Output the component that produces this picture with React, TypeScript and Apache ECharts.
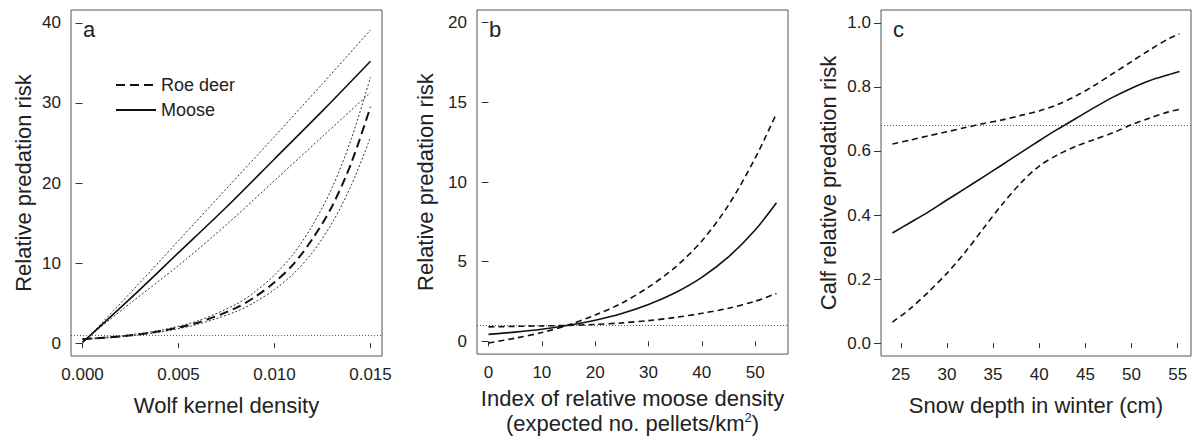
import React, { useEffect, useRef } from "react";
import * as echarts from "echarts";

// ---------- Panel a: wolf kernel density ----------
const wolfX = [0, 0.0025, 0.005, 0.0075, 0.01, 0.0125, 0.015];
const mooseA = [0.1, 5.6, 11.3, 17.0, 23.0, 29.0, 35.2];
const mooseAUpper = [0.0, 6.3, 12.8, 19.3, 25.8, 32.4, 39.1];
const mooseALower = [0.2, 5.0, 9.7, 14.8, 20.3, 25.8, 31.3];

const roeX = [0, 0.002, 0.004, 0.006, 0.008, 0.009, 0.01, 0.011, 0.012, 0.013, 0.014, 0.015];
const roeA = [0.5, 0.86, 1.48, 2.56, 4.4, 5.8, 7.6, 9.9, 13.1, 17.1, 22.5, 29.5];
const roeAUpper = [0.55, 0.92, 1.58, 2.78, 4.85, 6.45, 8.5, 11.2, 14.8, 19.4, 25.5, 33.2];
const roeALower = [0.45, 0.8, 1.38, 2.36, 3.95, 5.15, 6.7, 8.7, 11.4, 15.0, 19.7, 25.7];

const aXTicks = [0, 0.005, 0.01, 0.015];
const aYTicks = [0, 10, 20, 30, 40];

// ---------- Panel b: moose density ----------
const pelletX = [0, 5, 10, 15, 20, 25, 30, 35, 40, 45, 50, 54];
const riskB = [0.44, 0.58, 0.76, 1.01, 1.33, 1.75, 2.31, 3.05, 4.02, 5.3, 6.99, 8.7];
const riskBUpper = [-0.1, 0.2, 0.55, 1.03, 1.65, 2.4, 3.4, 4.65, 6.3, 8.55, 11.5, 14.3];
const riskBLower = [0.91, 0.94, 0.97, 1.0, 1.06, 1.16, 1.3, 1.5, 1.76, 2.08, 2.52, 3.0];

const bXTicks = [0, 10, 20, 30, 40, 50];
const bYTicks = [0, 5, 10, 15, 20];

// ---------- Panel c: snow depth ----------
const snowX = [24.1, 26, 28, 30, 32, 34, 36, 38, 40, 42, 44, 46, 48, 50, 52, 54, 55.2];
const calfC = [0.344, 0.376, 0.41, 0.447, 0.483, 0.52, 0.557, 0.595, 0.632, 0.668, 0.702, 0.736, 0.768, 0.796, 0.82, 0.838, 0.848];
const calfCUpper = [0.622, 0.634, 0.647, 0.66, 0.673, 0.686, 0.697, 0.711, 0.725, 0.745, 0.772, 0.805, 0.842, 0.879, 0.916, 0.95, 0.966];
const calfCLower = [0.066, 0.107, 0.16, 0.218, 0.285, 0.36, 0.434, 0.5, 0.553, 0.588, 0.615, 0.636, 0.657, 0.682, 0.703, 0.722, 0.73];

const cXTicks = [25, 30, 35, 40, 45, 50, 55];
const cYTicks = [0, 0.2, 0.4, 0.6, 0.8, 1.0];

const refA = 1;
const refB = 1;
const refC = 0.683;

const FONT = "'Liberation Sans', Arial, Helvetica, sans-serif";
const INK = "#222";
const LINE = "#111";

const pairs = (xs: number[], ys: number[]) => xs.map((x, i) => [x, ys[i]]);

function refLine(y: number) {
  return {
    silent: true,
    symbol: ["none", "none"],
    label: { show: false },
    lineStyle: { type: [1, 2], width: 0.8, color: "#333" },
    data: [{ yAxis: y }],
  };
}

function line(name: string, xi: number, data: number[][], style: any, extra: any = {}) {
  return {
    type: "line",
    name,
    xAxisIndex: xi,
    yAxisIndex: xi,
    data,
    showSymbol: false,
    symbol: "none",
    smooth: 0.3,
    itemStyle: { color: LINE },
    lineStyle: style,
    z: 3,
    ...extra,
  };
}

function xAxis(gi: number, min: number, max: number, ticks: number[], fmt: (v: number) => string, name: any, nameGap: number, rich?: any) {
  return {
    type: "value",
    gridIndex: gi,
    min,
    max,
    axisLine: { show: false },
    axisTick: { show: true, length: 5, lineStyle: { color: "#333" }, customValues: ticks },
    axisLabel: { customValues: ticks, formatter: fmt, fontSize: 17, color: INK, margin: 10, fontFamily: FONT },
    splitLine: { show: false },
    name,
    nameLocation: "middle",
    nameGap,
    nameTextStyle: { fontSize: 22, color: INK, fontFamily: FONT, lineHeight: 25, rich },
  };
}

function yAxis(gi: number, min: number, max: number, ticks: number[], fmt: (v: number) => string, name: string, nameGap: number) {
  return {
    type: "value",
    gridIndex: gi,
    min,
    max,
    axisLine: { show: false },
    axisTick: { show: true, length: 7, lineStyle: { color: "#333" }, customValues: ticks },
    axisLabel: { customValues: ticks, formatter: fmt, fontSize: 17, color: INK, margin: 10, fontFamily: FONT },
    splitLine: { show: false },
    name,
    nameLocation: "middle",
    nameRotate: 90,
    nameGap,
    nameTextStyle: { fontSize: 22, color: INK, fontFamily: FONT },
  };
}

export default function App() {
  const ref = useRef<HTMLDivElement>(null);
  useEffect(() => {
    if (!ref.current) return;
    const chart = echarts.init(ref.current, null, { renderer: "svg" });
    const gridBase = { show: true, borderColor: "#555", borderWidth: 1, backgroundColor: "transparent", containLabel: false };
    const dotted = { type: [2, 2], width: 1, color: "#333" };
    const dashedThick = { type: [9, 5], width: 2, color: LINE };
    const dashed = { type: [6, 4], width: 1.6, color: LINE };
    const solid = { type: "solid", width: 1.6, color: LINE };

    chart.setOption({
      animation: false,
      textStyle: { fontFamily: FONT },
      grid: [
        { ...gridBase, left: 71, top: 10, width: 311, height: 346 },
        { ...gridBase, left: 477, top: 10, width: 311, height: 346 },
        { ...gridBase, left: 881, top: 10, width: 310, height: 346 },
      ],
      legend: {
        data: ["Roe deer", "Moose"],
        orient: "vertical",
        left: 110,
        top: 71,
        itemWidth: 40,
        itemHeight: 14,
        itemGap: 7,
        selectedMode: false,
        itemStyle: { opacity: 0 },
        textStyle: { fontSize: 18, color: INK, fontFamily: FONT },
      },
      xAxis: [
        xAxis(0, -0.0006, 0.0156, aXTicks, (v: number) => v.toFixed(3), "Wolf kernel density", 37),
        xAxis(
          1,
          -2.16,
          56.16,
          bXTicks,
          (v: number) => String(v),
          "Index of relative moose density\n(expected no. pellets/km{sup|2})",
          31,
          { sup: { fontSize: 13, verticalAlign: "top", lineHeight: 25, color: INK, fontFamily: FONT } }
        ),
        xAxis(2, 22.86, 56.44, cXTicks, (v: number) => String(v), "Snow depth in winter (cm)", 37),
      ],
      yAxis: [
        yAxis(0, -1.6, 41.6, aYTicks, (v: number) => String(v), "Relative predation risk", 37),
        yAxis(1, -0.8, 20.8, bYTicks, (v: number) => String(v), "Relative predation risk", 41),
        yAxis(2, -0.04, 1.04, cYTicks, (v: number) => v.toFixed(1), "Calf relative predation risk", 42),
      ],
      graphic: [
        { type: "text", left: 83, top: 18, style: { text: "a", fontSize: 22, fill: INK, fontFamily: FONT } },
        { type: "text", left: 489, top: 18, style: { text: "b", fontSize: 22, fill: INK, fontFamily: FONT } },
        { type: "text", left: 893, top: 18, style: { text: "c", fontSize: 22, fill: INK, fontFamily: FONT } },
      ],
      series: [
        line("Moose upper CI", 0, pairs(wolfX, mooseAUpper), dotted),
        line("Moose lower CI", 0, pairs(wolfX, mooseALower), dotted),
        line("Roe deer upper CI", 0, pairs(roeX, roeAUpper), dotted),
        line("Roe deer lower CI", 0, pairs(roeX, roeALower), dotted),
        line("Moose", 0, pairs(wolfX, mooseA), solid, { markLine: refLine(refA) }),
        line("Roe deer", 0, pairs(roeX, roeA), dashedThick),

        line("Moose density effect", 1, pairs(pelletX, riskB), solid, { markLine: refLine(refB) }),
        line("Moose density upper", 1, pairs(pelletX, riskBUpper), dashed),
        line("Moose density lower", 1, pairs(pelletX, riskBLower), dashed),

        line("Snow depth effect", 2, pairs(snowX, calfC), solid, { markLine: refLine(refC) }),
        line("Snow depth upper", 2, pairs(snowX, calfCUpper), dashed),
        line("Snow depth lower", 2, pairs(snowX, calfCLower), dashed),
      ],
    });
    return () => chart.dispose();
  }, []);
  return <div ref={ref} style={{ position: "fixed", left: 0, top: 0, width: 1195, height: 441, background: "#fff" }} />;
}
